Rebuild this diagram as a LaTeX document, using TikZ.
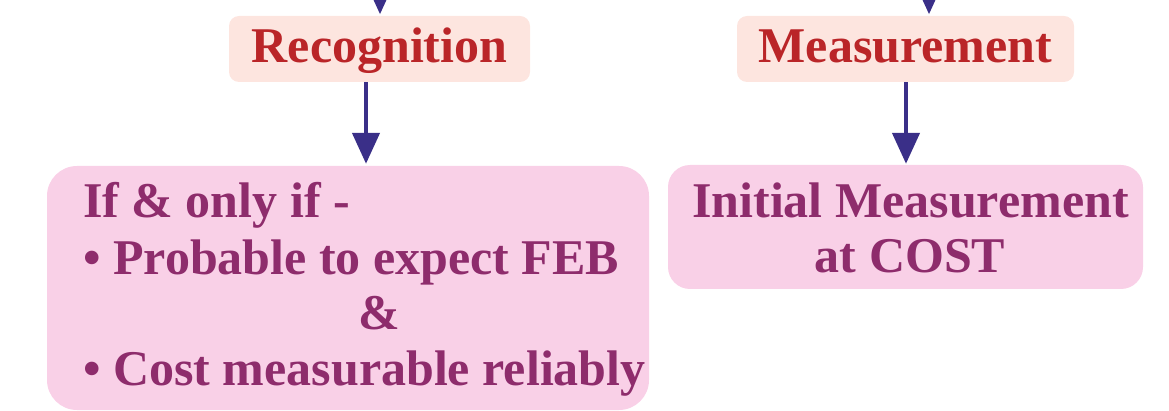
\documentclass[tikz,border=0pt]{standalone}
\usepackage{fontspec}
\setmainfont{Liberation Serif}
\usetikzlibrary{arrows.meta}
\definecolor{peach}{HTML}{FDE5DF}
\definecolor{redtxt}{HTML}{BA2528}
\definecolor{pinkbox}{HTML}{F9D0E7}
\definecolor{purptxt}{HTML}{8E2C6C}
\definecolor{arrowblue}{HTML}{3A2F88}
\tikzset{
  headbox/.style={rectangle, rounded corners=10pt, fill=peach, text=redtxt,
    inner sep=0pt, text height=36pt, text depth=8pt,
    font=\fontsize{50}{55}\selectfont\bfseries},
  bigbox/.style={rectangle, fill=pinkbox, inner sep=0pt},
  bodytext/.style={inner sep=0pt, text=purptxt,
    font=\fontsize{50}{55}\selectfont\bfseries},
  flowarrow/.style={draw=arrowblue, line width=4.5pt,
    -{Triangle[width=27pt,length=31pt]}}
}
\begin{document}
\begin{tikzpicture}[x=1pt,y=-1pt]
\useasboundingbox (0,0) rectangle (1169,411);
\clip (0,0) rectangle (1169,411);
% heading boxes
\node[headbox, minimum width=301pt, minimum height=66pt] (rec) at (379.5,49) {Recognition};
\node[headbox, minimum width=337pt, minimum height=66pt] (meas) at (905.5,49) {Measurement};
% body boxes
\node[bigbox, rounded corners=30pt, minimum width=602pt, minimum height=244pt] (lbox) at (348,288) {};
\node[bigbox, rounded corners=22pt, minimum width=475pt, minimum height=124pt] (rbox) at (905.5,227) {};
% left text
\node[bodytext, anchor=base west] (l1) at (83,218) {If \& only if -};
\node[bodytext, anchor=base west] (l2) at (83,275) {• Probable to expect FEB};
\node[bodytext, anchor=base] (l3) at (379,330) {\&};
\node[bodytext, anchor=base west] (l4) at (83,385) {• Cost measurable reliably};
% right text
\node[bodytext, anchor=base] (r1) at (910.5,218) {Initial Measurement};
\node[bodytext, anchor=base] (r2) at (910,273) {at COST};
% incoming arrows from above
\coordinate (rectop) at (380,-40);
\coordinate (meastop) at (929,-40);
\draw[flowarrow, shorten >=1.5pt] (rectop) -- (rectop |- rec.north);
\draw[flowarrow, shorten >=1.5pt] (meastop) -- (meastop |- meas.north);
% downward arrows
\draw[flowarrow, shorten >=2pt] (rec.south -| 366,0) -- (lbox.north -| 366,0);
\draw[flowarrow, shorten >=1pt] (meas.south -| 906,0) -- (rbox.north -| 906,0);
\end{tikzpicture}
\end{document}
